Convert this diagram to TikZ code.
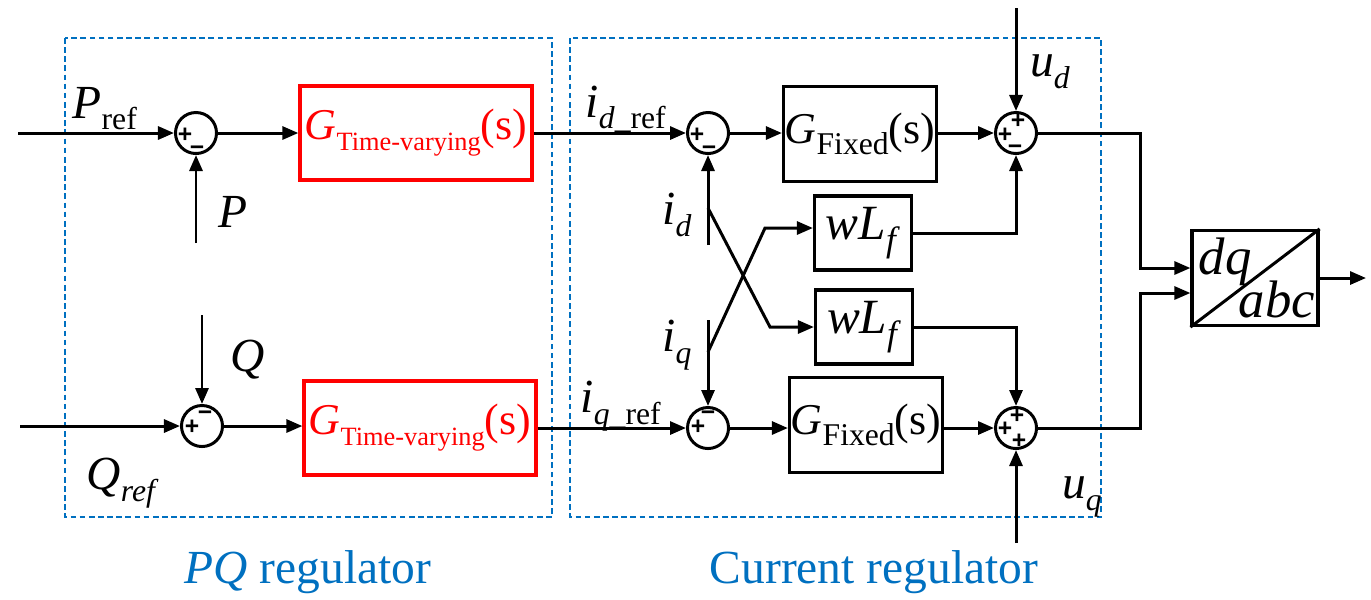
\documentclass[tikz,border=0pt]{standalone}
\usepackage{fontspec}
\setmainfont{LiberationSerif}[Extension=.ttf,UprightFont=*-Regular,ItalicFont=*-Italic,BoldFont=*-Bold,BoldItalicFont=*-BoldItalic]
\newfontfamily\signfont{Liberation Sans}
\usetikzlibrary{arrows.meta,calc}
\definecolor{regblue}{RGB}{0,112,192}
\newcommand\lowsub[2][9]{\raisebox{-0.55ex}{\fontsize{#1}{#1}\selectfont #2}}
\tikzset{
  wire/.style={line width=0.85pt},
  conn/.style={wire,-{Triangle[length=0.16cm,width=0.13cm]}},
  sumnode/.style={circle,draw,line width=0.85pt,minimum size=0.41cm,inner sep=0pt},
  blockbox/.style={draw,line width=0.9pt,inner sep=0pt,font=\fontsize{12.5}{13}\selectfont},
  tvbox/.style={blockbox,draw=red,text=red,minimum width=2.32cm,minimum height=0.94cm},
  fixbox/.style={blockbox,minimum width=1.53cm,minimum height=0.95cm},
  wlbox/.style={blockbox,minimum width=0.97cm,minimum height=0.74cm,font=\fontsize{14}{14}\selectfont},
  lbl/.style={inner sep=0pt,font=\fontsize{13.5}{14}\selectfont},
  sign/.style={inner sep=0pt,font=\signfont\bfseries\fontsize{7}{7}\selectfont},
  regbox/.style={draw=regblue,line width=0.6pt,dash pattern=on 1.6pt off 1pt},
  caption/.style={text=regblue,font=\fontsize{13.5}{14}\selectfont}
}
\begin{document}
\begin{tikzpicture}[x=0.01cm,y=-0.01cm]
  \useasboundingbox (0,0) rectangle (1371,599);
  \draw[regbox] (65,38) rectangle (552,517);
  \draw[regbox] (570,38) rectangle (1101,517);
  \node[caption] (pqcap) at (308,572) {\textit{PQ} regulator};
  \node[caption] (curcap) at (874,572) {Current regulator};

  \node[sumnode] (sP) at (196,133) {};
  \node[sumnode] (sQ) at (202,426) {};
  \node[sumnode] (sD) at (708,133) {};
  \node[sumnode] (sQc) at (708,428) {};
  \node[sumnode] (sU) at (1016,133) {};
  \node[sumnode] (sUq) at (1016,428) {};
  \foreach \s/\dx/\dy/\t in {sP/-11/2/+, sP/1/18/−, sQ/-10/1/+, sQ/3/-10/−,
      sD/-11/2/+, sD/1/18/−, sQc/-10/-1/+, sQc/0/-12/−,
      sU/2/-12/+, sU/-11/2/+, sU/-1/17/−, sUq/1/-12/+, sUq/-11/1/+, sUq/3/13/+}
    \node[sign] at ($(\s.center)+(\dx,\dy)$) {\t};

  \node[tvbox] (gP) at (416,133) {\textit{G}\lowsub[7.5]{Time-varying}(s)};
  \node[tvbox] (gQ) at (420,428) {\textit{G}\lowsub[7.5]{Time-varying}(s)};
  \node[fixbox] (fD) at (860,134) {\textit{G}\lowsub{Fixed}(s)};
  \node[fixbox] (fQ) at (866,425) {\textit{G}\lowsub{Fixed}(s)};
  \node[wlbox] (wA) at (863,233) {\textit{wL}\lowsub[10]{\textit{f}}};
  \node[wlbox] (wB) at (864,327) {\textit{wL}\lowsub[10]{\textit{f}}};
  \node[draw,line width=0.9pt,minimum width=1.26cm,minimum height=0.95cm] (dq) at (1255,278) {};
  \draw[wire] (dq.south west) -- (dq.north east);
  \node[lbl,font=\fontsize{15}{15}\selectfont] (dqt) at (1225,262) {\textit{dq}};
  \node[lbl,font=\fontsize{15}{15}\selectfont] (abct) at (1277,299) {\textit{abc}};

  \coordinate (pin) at (18,133);
  \coordinate (pfb) at (196,243);
  \coordinate (qin) at (20,426);
  \coordinate (qfb) at (202,315);
  \coordinate (ud) at (1016,8);
  \coordinate (uq) at (1016,543);
  \coordinate (jD) at (1140,268);
  \coordinate (jQ) at (1140,293);
  \coordinate (out) at (1366,278);
  \coordinate (idin) at (708,245);
  \coordinate (idk) at (708,208);
  \coordinate (idb) at (770,327);
  \coordinate (iqin) at (708,320);
  \coordinate (iqk) at (708,352);
  \coordinate (iqb) at (765,228);

  \draw[conn] (pin) -- (sP);
  \draw[conn] (pfb) -- (sP);
  \draw[conn] (sP) -- (gP);
  \draw[conn] (gP) -- (sD);
  \draw[conn] (sD) -- (sD -| fD.west);
  \draw[conn] (fD.east |- sU) -- (sU);
  \draw[conn] (ud) -- (sU);
  \draw[conn] (sU) -| (jD) -- (jD -| dq.west);
  \draw[conn] (qin) -- (sQ);
  \draw[conn] (qfb) -- (sQ);
  \draw[conn] (sQ) -- (sQ -| gQ.west);
  \draw[conn] (gQ) -- (sQc);
  \draw[conn] (sQc) -- (sQc -| fQ.west);
  \draw[conn] (fQ.east |- sUq) -- (sUq);
  \draw[conn] (uq) -- (sUq);
  \draw[conn] (sUq) -| (jQ) -- (jQ -| dq.west);
  \draw[conn] (dq) -- (out);
  \draw[conn] (idin) -- (sD);
  \draw[conn] (iqin) -- (sQc);
  \draw[conn] (idk) -- (idb) -- (idb -| wB.west);
  \draw[conn] (iqk) -- (iqb) -- (iqb -| wA.west);
  \draw[conn] (wA) -| (sU);
  \draw[conn] (wB) -| (sUq);

  \node[lbl,anchor=base west] (lpref) at (72,118) {\textit{P}\lowsub{ref}};
  \node[lbl] (lp) at (233,212) {\textit{P}};
  \node[lbl] (lq) at (248,360) {\textit{Q}};
  \node[lbl,anchor=base west] (lqref) at (86,489) {\textit{Q}\lowsub{\textit{ref}}};
  \node[lbl,anchor=base west] (lidref) at (585,117) {\textit{i}\lowsub{\textit{d}\_ref}};
  \node[lbl,anchor=base west] (liqref) at (580,412) {\textit{i}\lowsub{\textit{q}\_ref}};
  \node[lbl] (lud) at (1050,72) {\textit{u}\lowsub{\textit{d}}};
  \node[lbl] (luq) at (1082,497) {\textit{u}\lowsub{\textit{q}}};
  \node[lbl] (lid) at (677,215) {\textit{i}\lowsub{\textit{d}}};
  \node[lbl] (liq) at (677,345) {\textit{i}\lowsub{\textit{q}}};
\end{tikzpicture}
\end{document}
